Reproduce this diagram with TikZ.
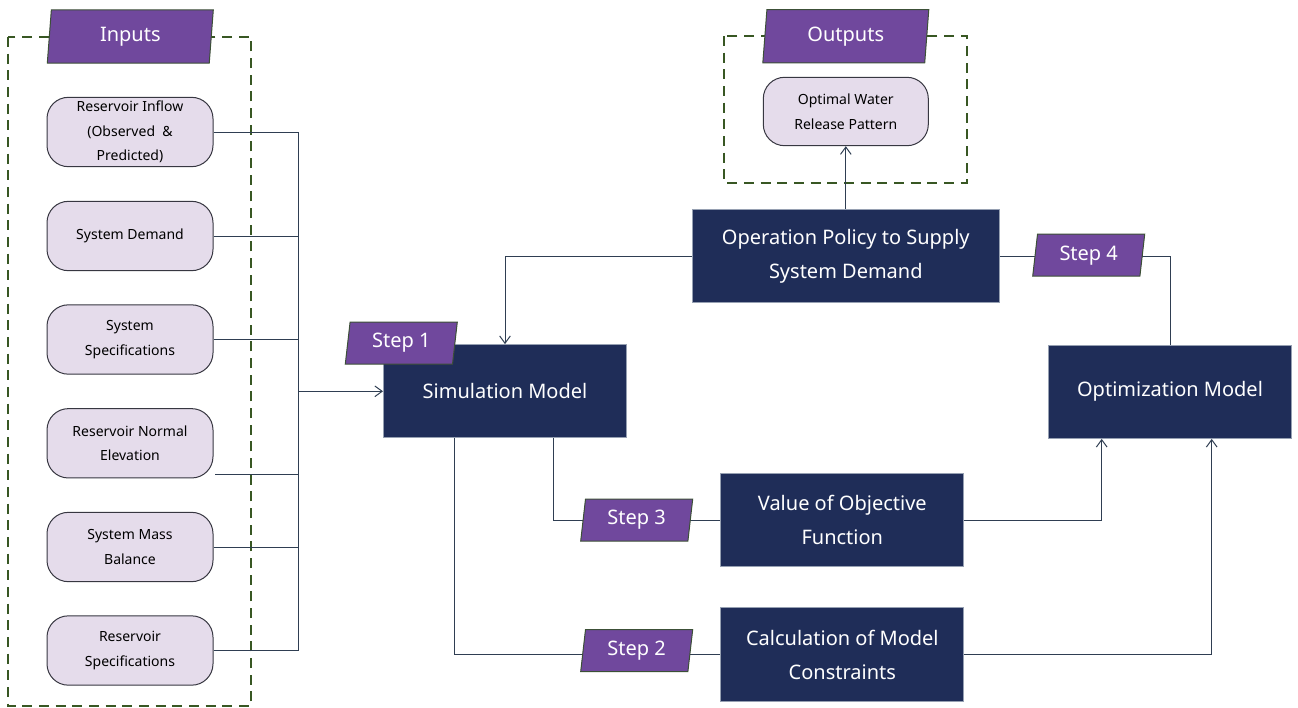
\documentclass[tikz,border=0pt]{standalone}
\usepackage{fontspec}
\setmainfont{Noto Sans}
\usetikzlibrary{shapes.geometric,arrows.meta,calc}

\definecolor{navy}{RGB}{31,45,88}
\definecolor{navyedge}{RGB}{150,160,178}
\definecolor{lavender}{RGB}{229,220,235}
\definecolor{itemedge}{RGB}{55,55,65}
\definecolor{tagpurple}{RGB}{112,72,157}
\definecolor{tagedge}{RGB}{60,80,55}
\definecolor{framegreen}{RGB}{56,87,35}
\definecolor{linkcol}{RGB}{47,62,82}

\tikzset{every picture/.style={line width=0.75pt}}
\tikzset{
  modelbox/.style={draw=navyedge, fill=navy, text=white, minimum width=182.25pt, minimum height=70pt, inner sep=0pt, align=center, font=\fontsize{15}{25.5}\selectfont},
  inbox/.style={draw=itemedge, fill=lavender, rounded corners=16pt, minimum width=124.5pt, minimum height=52pt, inner sep=0pt, align=center, font=\fontsize{10.5}{18.5}\selectfont},
  steptag/.style={trapezium, trapezium left angle=76, trapezium right angle=104, trapezium stretches body, draw=tagedge, fill=tagpurple, text=white, minimum width=84pt, minimum height=31.5pt, inner sep=0pt, font=\fontsize{15}{18}\selectfont},
  headtag/.style={steptag, trapezium left angle=78, trapezium right angle=102, minimum width=124.5pt, minimum height=40pt},
  groupframe/.style={draw=framegreen, line width=1.5pt, dash pattern=on 7.5pt off 5pt},
  link/.style={draw=linkcol},
  flow/.style={link, -{Straight Barb[length=5.5pt,width=8pt]}},
}

\begin{document}
\begin{tikzpicture}[x=0.75pt,y=0.75pt,yscale=-1,xscale=1]
\useasboundingbox (0,0) rectangle (1298,707);

% dashed frames
\draw[groupframe] (8,37) rectangle (251,706);
\draw[groupframe] (724,36) rectangle (967.3,182.7);

% input boxes
\node[inbox] (in1) at (130,132) {Reservoir Inflow\\(Observed \ \&\\Predicted)};
\node[inbox] (in2) at (130,236) {System Demand};
\node[inbox] (in3) at (130,339.5) {System\\Specifications};
\node[inbox] (in4) at (130,443.3) {Reservoir Normal\\Elevation};
\node[inbox] (in5) at (130,547) {System Mass\\Balance};
\node[inbox] (in6) at (130,650.5) {Reservoir\\Specifications};

% output box
\node[inbox, minimum width=123.75pt, minimum height=51.3pt] (optimal) at (845.8,111.5) {Optimal Water\\Release Pattern};

% models
\node[modelbox] (sim) at (505,391.3) {Simulation Model};
\node[modelbox, minimum width=230.25pt] (policy) at (845.8,256) {Operation Policy to Supply\\System Demand};
\node[modelbox] (opt) at (1170,391.7) {Optimization Model};
\node[modelbox] (value) at (842.3,520.3) {Value of Objective\\Function};
\node[modelbox] (calc) at (842.3,654.5) {Calculation of Model\\Constraints};

% connectors
\coordinate (bus) at (298.2,391.7);
\coordinate (tap4) at ($(in4.east)+(1.5,30.7)$);
\foreach \k in {1,2,3,5,6}
  \draw[link] (in\k.east) -- (in\k.east -| bus);
\draw[link] (tap4) -- (tap4 -| bus);
\draw[link] (in1.east -| bus) -- (in6.east -| bus);
\draw[flow] (sim.west -| bus) -- (sim.west);

\draw[flow] (policy.west) -| (sim.north);
\draw[link] (policy.east) -| (opt.north);
\draw[flow] (policy.north) -- (optimal.south);

\draw[link] ($(sim.south)+(48.3,0)$) |- (value.west);
\draw[link] ($(sim.south)+(-50.7,0)$) |- (calc.west);
\draw[flow] (value.east) -| ($(opt.south)+(-68.3,0)$);
\draw[flow] (calc.east) -| ($(opt.south)+(41.7,0)$);

% tags
\node[headtag] (inputs) at (130.3,36.5) {Inputs};
\node[headtag] (outputs) at (845.8,36.3) {Outputs};
\node[steptag] (step1) at (401.3,343) {Step 1};
\node[steptag] (step2) at (636.7,650.5) {Step 2};
\node[steptag] (step3) at (636.7,520) {Step 3};
\node[steptag] (step4) at (1088.7,255.2) {Step 4};

\end{tikzpicture}
\end{document}
